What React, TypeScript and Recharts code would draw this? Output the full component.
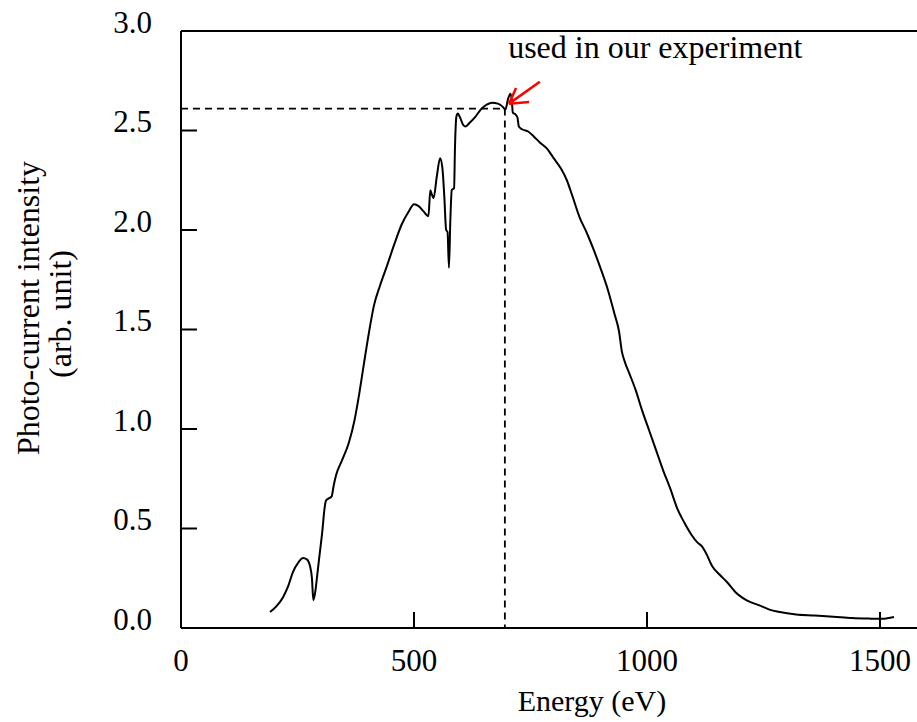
import React from 'react';
import { LineChart, Line, XAxis, YAxis, ReferenceLine, ReferenceDot, Label } from 'recharts';

const energy = [
  191, 205, 219, 230, 240, 252, 262, 270, 277, 281, 284, 288, 293, 298, 303, 308, 311, 316, 323, 328,
  333, 345, 360, 372, 382, 392, 403, 414, 427, 442, 458, 474, 488, 500, 510, 520, 531, 535, 538, 542,
  549, 556, 561, 565, 569, 572, 575, 578, 581, 586, 588, 591, 594, 599, 605, 610, 620, 632, 645, 656,
  668, 680, 690, 696, 702, 707, 710, 712, 718, 722, 725, 733, 745, 757, 770, 785, 800, 815, 828, 840,
  856, 870, 884, 900, 916, 930, 940, 946, 952, 962, 975, 990, 1005, 1020, 1035, 1050, 1065, 1080, 1095, 1108,
  1118, 1128, 1140, 1155, 1172, 1190, 1206, 1222, 1240, 1260, 1285, 1320, 1360, 1400, 1440, 1480, 1505, 1530,
];
const intensity = [
  0.08, 0.11, 0.155, 0.21, 0.28, 0.33, 0.352, 0.345, 0.31, 0.25, 0.14, 0.18, 0.28, 0.38, 0.48, 0.6, 0.64, 0.65, 0.66, 0.72,
  0.77, 0.84, 0.93, 1.04, 1.17, 1.32, 1.48, 1.62, 1.72, 1.82, 1.93, 2.03, 2.09, 2.13, 2.12, 2.095, 2.07, 2.2, 2.18, 2.16,
  2.27, 2.36, 2.31, 2.17, 2.0, 1.99, 1.81, 2.05, 2.2, 2.21, 2.42, 2.57, 2.585, 2.565, 2.53, 2.52, 2.54, 2.57, 2.61, 2.63,
  2.64, 2.635, 2.62, 2.605, 2.66, 2.685, 2.65, 2.59, 2.58, 2.565, 2.52, 2.505, 2.495, 2.47, 2.44, 2.41, 2.36, 2.31, 2.25, 2.17,
  2.06, 1.99, 1.91, 1.81, 1.7, 1.58, 1.49, 1.39, 1.34, 1.28, 1.2, 1.09, 0.99, 0.89, 0.79, 0.7, 0.6, 0.53, 0.47, 0.43,
  0.41, 0.37, 0.31, 0.27, 0.23, 0.18, 0.15, 0.13, 0.115, 0.095, 0.08, 0.068, 0.063, 0.057, 0.05, 0.047, 0.046, 0.055,
];

const xTicks = [0, 500, 1000, 1500];
const yTicks = [0, 0.5, 1, 1.5, 2, 2.5, 3];
const yTickLabels = ['0.0', '0.5', '1.0', '1.5', '2.0', '2.5', '3.0'];

const markerEnergy = 695;
const markerIntensity = 2.61;
const arrowTail = { x: 770, y: 2.745 };
const arrowTip = { x: 704, y: 2.635 };
const arrowWingA = { x: 719, y: 2.714 };
const arrowWingB = { x: 747, y: 2.643 };
const annotationText = 'used in our experiment';
const annotationAt = { x: 702, y: 2.865 };
const xTitle = 'Energy (eV)';
const yTitle1 = 'Photo-current intensity';
const yTitle2 = '(arb. unit)';

const data = energy.map((e, i) => ({ energy: e, intensity: intensity[i] }));

const FONT = '"Liberation Serif", "Times New Roman", serif';
const FS_TICK = 31;
const FS_TITLE = 32;

const XTick = (props: any) => {
  const { x, y, payload } = props;
  return (
    <g>
      {payload.value !== 0 && (
        <line x1={x} x2={x} y1={y} y2={y - 16} stroke="#000" strokeWidth={2} />
      )}
      <text x={x} y={y + 32} textAnchor="middle" dominantBaseline="central" fontFamily={FONT} fontSize={FS_TICK} fill="#000">
        {payload.value}
      </text>
    </g>
  );
};

const YTick = (props: any) => {
  const { x, y, payload } = props;
  const idx = yTicks.indexOf(payload.value);
  const showLine = payload.value !== 0 && payload.value !== 3;
  return (
    <g>
      {showLine && <line x1={x} x2={x + 16} y1={y} y2={y} stroke="#000" strokeWidth={2} />}
      <text x={x - 29} y={y - 9} textAnchor="end" dominantBaseline="central" fontFamily={FONT} fontSize={FS_TICK} fill="#000">
        {idx >= 0 ? yTickLabels[idx] : payload.value}
      </text>
    </g>
  );
};

const YLabel = () => (
  <g>
    <text x={28} y={308} transform="rotate(-90 28 308)" textAnchor="middle" dominantBaseline="central" fontFamily={FONT} fontSize={FS_TITLE} fill="#000">
      {yTitle1}
    </text>
    <text x={60} y={314} transform="rotate(-90 60 314)" textAnchor="middle" dominantBaseline="central" fontFamily={FONT} fontSize={FS_TITLE} fill="#000">
      {yTitle2}
    </text>
  </g>
);

const XLabel = () => (
  <text x={592} y={700} textAnchor="middle" dominantBaseline="central" fontFamily={FONT} fontSize={30} fill="#000">
    {xTitle}
  </text>
);

const Annotation = (props: any) => {
  const vb = props.viewBox || {};
  const x = (vb.x || 0) + (vb.width || 0) / 2;
  const y = (vb.y || 0) + (vb.height || 0) / 2;
  return (
    <text x={x} y={y} textAnchor="start" fontFamily={FONT} fontSize={FS_TITLE} fill="#000">
      {annotationText}
    </text>
  );
};

export default function App() {
  return (
    <div style={{ position: 'fixed', left: 0, top: 0, width: 917, height: 722, overflow: 'hidden', background: '#fff' }}>
      <LineChart width={950} height={722} data={data} margin={{ top: 31, right: 23.4, bottom: 0, left: 0 }}>
        <XAxis
          dataKey="energy"
          type="number"
          domain={[0, 1600]}
          ticks={xTicks}
          height={94}
          tickSize={0}
          tickMargin={0}
          tickLine={false}
          axisLine={{ stroke: '#000', strokeWidth: 2 }}
          tick={<XTick />}
          interval={0}
        >
          <Label content={<XLabel />} />
        </XAxis>
        <YAxis
          type="number"
          domain={[0, 3]}
          ticks={yTicks}
          width={181}
          tickSize={0}
          tickMargin={0}
          tickLine={false}
          axisLine={{ stroke: '#000', strokeWidth: 2 }}
          tick={<YTick />}
          interval={0}
        >
          <Label content={<YLabel />} />
        </YAxis>
        <ReferenceLine y={3} stroke="#000" strokeWidth={2} />
        <ReferenceLine
          segment={[{ x: 0, y: markerIntensity }, { x: markerEnergy, y: markerIntensity }]}
          stroke="#000"
          strokeWidth={1.8}
          strokeDasharray="7 5"
        />
        <ReferenceLine
          segment={[{ x: markerEnergy, y: markerIntensity }, { x: markerEnergy, y: 0 }]}
          stroke="#000"
          strokeWidth={1.8}
          strokeDasharray="7 5"
        />
        <Line
          dataKey="intensity"
          type="monotone"
          stroke="#000"
          strokeWidth={2}
          dot={false}
          isAnimationActive={false}
        />
        <ReferenceLine segment={[arrowTail, arrowTip]} stroke="#ff0000" strokeWidth={2.5} />
        <ReferenceLine segment={[arrowWingA, arrowTip]} stroke="#ff0000" strokeWidth={2.5} />
        <ReferenceLine segment={[arrowWingB, arrowTip]} stroke="#ff0000" strokeWidth={2.5} />
        <ReferenceDot x={annotationAt.x} y={annotationAt.y} r={0} fill="none" stroke="none" label={<Annotation />} />
      </LineChart>
    </div>
  );
}
